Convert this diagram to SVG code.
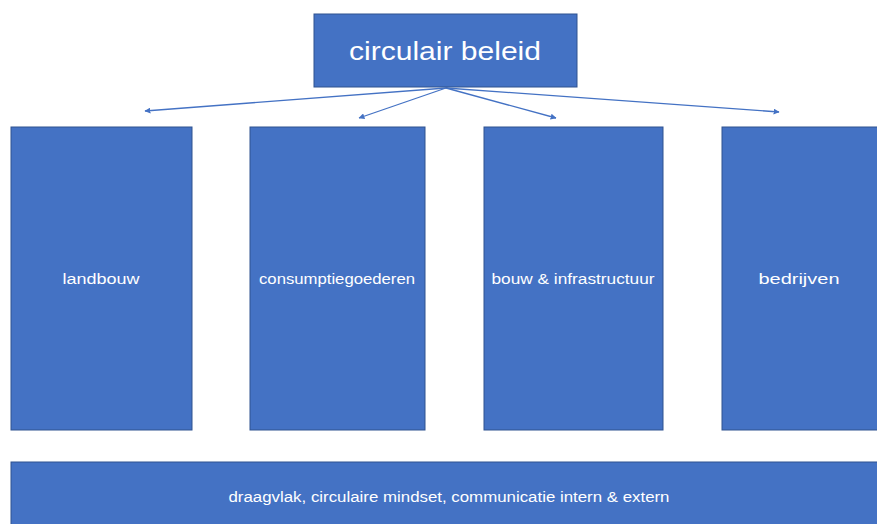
<svg xmlns="http://www.w3.org/2000/svg" width="877" height="524" viewBox="0 0 877 524">
<defs>
<style>
.box{fill:#4472C4;stroke:#2F528F;stroke-width:1}
.lbl{fill:#FFFFFF;font-family:"Liberation Sans","Open Sans",sans-serif;font-size:14px;text-anchor:middle}
.title{font-size:26px}
.conn{stroke:#4472C4;stroke-width:1.3;fill:none;marker-end:url(#ah)}
</style>
<marker id="ah" viewBox="0 0 10 10" refX="9" refY="5" markerWidth="6" markerHeight="6" orient="auto" markerUnits="userSpaceOnUse">
<path d="M0,0 L10,5 L0,10 z" fill="#4472C4"/>
</marker>
</defs>
<rect width="877" height="524" fill="#FFFFFF"/>
<g id="connectors">
<line class="conn" x1="446" y1="88" x2="145" y2="111"/>
<line class="conn" x1="446" y1="88" x2="359" y2="118"/>
<line class="conn" x1="446" y1="88" x2="556" y2="118"/>
<line class="conn" x1="446" y1="88" x2="779" y2="112"/>
</g>
<g id="circulair-beleid">
<rect class="box" x="314" y="14" width="263" height="73"/>
<text class="lbl title" x="445" y="60" textLength="192" lengthAdjust="spacingAndGlyphs">circulair beleid</text>
</g>
<g id="landbouw">
<rect class="box" x="11" y="127" width="181" height="303"/>
<text class="lbl" x="101" y="284" textLength="77" lengthAdjust="spacingAndGlyphs">landbouw</text>
</g>
<g id="consumptiegoederen">
<rect class="box" x="250" y="127" width="175" height="303"/>
<text class="lbl" x="337" y="284" textLength="156" lengthAdjust="spacingAndGlyphs">consumptiegoederen</text>
</g>
<g id="bouw-infrastructuur">
<rect class="box" x="484" y="127" width="179" height="303"/>
<text class="lbl" x="573" y="284" textLength="163" lengthAdjust="spacingAndGlyphs">bouw &amp; infrastructuur</text>
</g>
<g id="bedrijven">
<rect class="box" x="722" y="127" width="160" height="303"/>
<text class="lbl" x="799" y="284" textLength="81" lengthAdjust="spacingAndGlyphs">bedrijven</text>
</g>
<g id="draagvlak">
<rect class="box" x="11" y="462" width="871" height="70"/>
<text class="lbl" x="449" y="502" textLength="441" lengthAdjust="spacingAndGlyphs">draagvlak, circulaire mindset, communicatie intern &amp; extern</text>
</g>
</svg>
